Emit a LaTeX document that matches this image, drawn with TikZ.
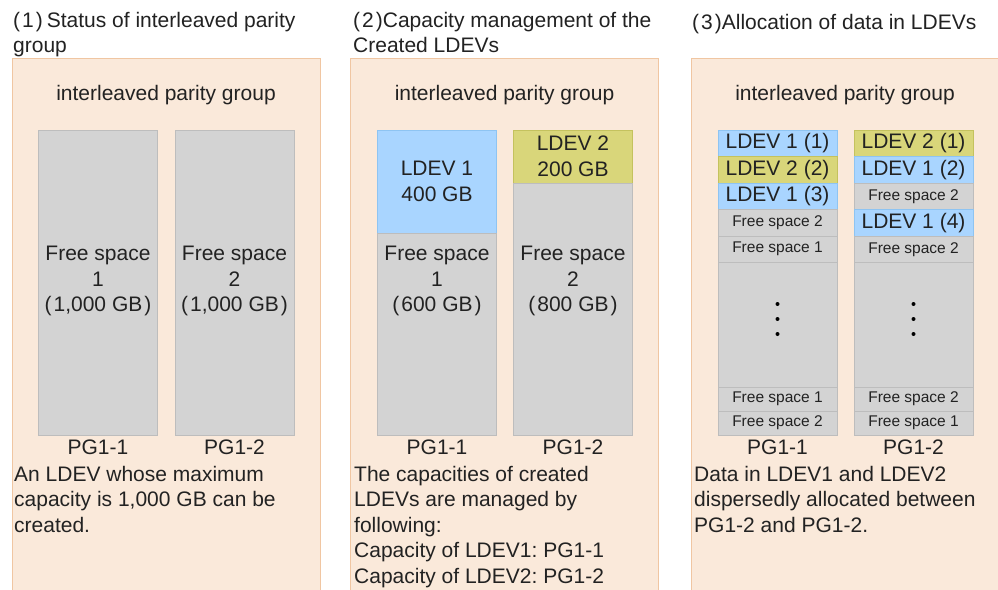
\documentclass[tikz,border=0pt]{standalone}
\usepackage{fontspec}
\setmainfont{Liberation Sans}
\definecolor{pfill}{HTML}{FAE9DA}
\definecolor{pborder}{HTML}{F0C6A2}
\definecolor{gfill}{HTML}{D3D3D3}
\definecolor{gborder}{HTML}{BDBDBD}
\definecolor{bfill}{HTML}{A9D5FF}
\definecolor{bborder}{HTML}{8EC4F2}
\definecolor{yfill}{HTML}{D9D67A}
\definecolor{yborder}{HTML}{C4C25E}
\definecolor{txt}{HTML}{222222}
\newcommand{\bigf}{\fontsize{21}{25.5}\selectfont}
\newcommand{\smallf}{\fontsize{15.5}{18}\selectfont}
\newcommand{\pg}{\hspace{2pt}}
\frenchspacing
\begin{document}
\begin{tikzpicture}[x=1pt,y=-1pt,font=\bigf,text=txt,
  panel/.style={draw=pborder,fill=pfill,line width=1pt,minimum width=308pt,minimum height=542pt,inner sep=0pt},
  colbox/.style={draw=gborder,fill=gfill,line width=0.8pt,inner sep=0pt,minimum width=119pt,align=center},
  bluebox/.style={draw=bborder,fill=bfill,line width=0.8pt,inner sep=0pt,minimum width=119pt,align=center},
  yelbox/.style={draw=yborder,fill=yfill,line width=0.8pt,inner sep=0pt,minimum width=119pt,align=center},
  lbl/.style={inner sep=0pt,align=center},
  para/.style={inner sep=0pt,align=left,anchor=north west},
  dot/.style={circle,fill=black,inner sep=0pt,minimum size=4pt}]
\useasboundingbox (0,0) rectangle (998,589);
\fill[white] (0,0) rectangle (998,589);

% titles
\node[para] (t1) at (13,12) {(\pg1\pg)\pg\pg Status of interleaved parity\\group};
\node[para] (t2) at (353,12) {(\pg2\pg)Capacity management of the\\Created LDEVs};
\node[para] (t3) at (692,14) {(\pg3\pg)Allocation of data in LDEVs};

% panels
\node[panel] (p1) at (166,329) {};
\node[panel] (p2) at (504.5,329) {};
\node[panel] (p3) at (845,329) {};
\foreach \p/\x in {p1/166,p2/504.5,p3/845}
  \node[lbl] (h\p) at (\x,95) {interleaved parity group};

% panel 1
\node[colbox,minimum height=305pt] (a1) at (98,282.5) {};
\node[colbox,minimum height=305pt] (a2) at (234.5,282.5) {};
\node[lbl] (a1t) at (98,281) {Free space\\1\\(\pg1,000 GB\pg)};
\node[lbl] (a2t) at (234.5,281) {Free space\\2\\(\pg1,000 GB\pg)};
\node[lbl] (a1p) at (98,447) {PG1-1};
\node[lbl] (a2p) at (234.5,447) {PG1-2};
\node[para] (a3) at (14,466) {An LDEV whose maximum\\capacity is 1,000 GB can be\\created.};

% panel 2
\node[bluebox,minimum height=103pt] (b1l) at (437,181.5) {LDEV 1\\400 GB};
\node[colbox,minimum height=202pt] (b1f) at (437,334) {};
\node[lbl] (b1t) at (437,281) {Free space\\1\\(\pg600 GB\pg)};
\node[yelbox,minimum height=53pt] (b2l) at (573,156.5) {LDEV 2\\200 GB};
\node[colbox,minimum height=252pt] (b2f) at (573,309) {};
\node[lbl] (b2t) at (573,281) {Free space\\2\\(\pg800 GB\pg)};
\node[lbl] (b1p) at (437,447) {PG1-1};
\node[lbl] (b2p) at (573,447) {PG1-2};
\node[para] (b3) at (354,466) {The capacities of created\\LDEVs are managed by\\following:\\Capacity of LDEV1: PG1-1\\Capacity of LDEV2: PG1-2};

% panel 3, PG1-1
\node[bluebox,minimum height=26.5pt] (c11) at (777.5,143.25) {LDEV 1 (1)};
\node[yelbox,minimum height=26.5pt] (c12) at (777.5,169.75) {LDEV 2 (2)};
\node[bluebox,minimum height=26.5pt] (c13) at (777.5,196.25) {LDEV 1 (3)};
\node[colbox,minimum height=26.5pt,font=\smallf] (c14) at (777.5,222.75) {Free space 2};
\node[colbox,minimum height=26.5pt,font=\smallf] (c15) at (777.5,249.25) {Free space 1};
\node[colbox,minimum height=124.5pt] (c16) at (777.5,324.75) {};
\node[colbox,minimum height=24pt,font=\smallf] (c17) at (777.5,399) {Free space 1};
\node[colbox,minimum height=24pt,font=\smallf] (c18) at (777.5,423) {Free space 2};
% panel 3, PG1-2
\node[yelbox,minimum height=26.5pt] (d11) at (913.5,143.25) {LDEV 2 (1)};
\node[bluebox,minimum height=26.5pt] (d12) at (913.5,169.75) {LDEV 1 (2)};
\node[colbox,minimum height=26.5pt,font=\smallf] (d13) at (913.5,196.25) {Free space 2};
\node[bluebox,minimum height=26.5pt] (d14) at (913.5,222.75) {LDEV 1 (4)};
\node[colbox,minimum height=26.5pt,font=\smallf] (d15) at (913.5,249.25) {Free space 2};
\node[colbox,minimum height=124.5pt] (d16) at (913.5,324.75) {};
\node[colbox,minimum height=24pt,font=\smallf] (d17) at (913.5,399) {Free space 2};
\node[colbox,minimum height=24pt,font=\smallf] (d18) at (913.5,423) {Free space 1};
\foreach \x/\n in {777.5/c,913.5/d}{
  \node[dot] (\n d1) at (\x,304) {};
  \node[dot] (\n d2) at (\x,319) {};
  \node[dot] (\n d3) at (\x,334) {};
}
\node[lbl] (c1p) at (777.5,447) {PG1-1};
\node[lbl] (d1p) at (913.5,447) {PG1-2};
\node[para] (c3) at (694,466) {Data in LDEV1 and LDEV2\\dispersedly allocated between\\PG1-2 and PG1-2.};
\end{tikzpicture}
\end{document}
